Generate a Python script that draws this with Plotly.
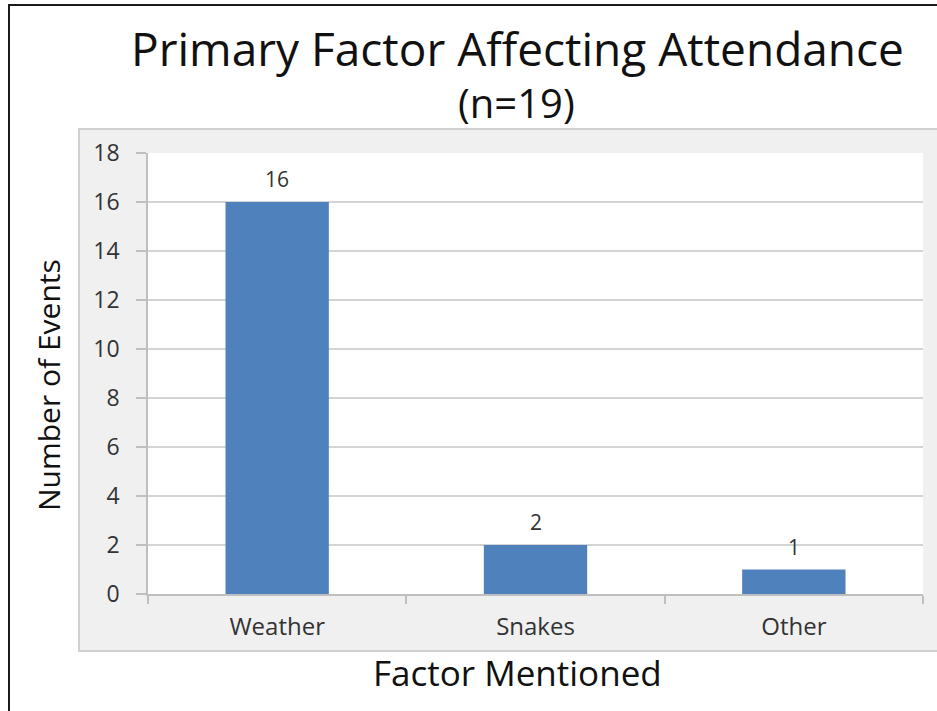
import plotly.graph_objects as go

categories = ["Weather", "Snakes", "Other"]
values = [16, 2, 1]
y_ticks = [0, 2, 4, 6, 8, 10, 12, 14, 16, 18]

title_line1 = "Primary Factor Affecting Attendance"
title_line2 = "(n=19)"
x_title = "Factor Mentioned"
y_title = "Number of Events"

W, H = 937, 711
L, R, T, B = 148, 14, 153, 117
PW, PH = W - L - R, H - T - B


def px(xp):
    return (xp - L) / PW


def py(yp):
    return (H - B - yp) / PH


FONT = "Open Sans"
BAR = "#4f81bd"
GRID = "#d4d4d4"
AXIS = "#bfbfbf"

fig = go.Figure()
fig.add_trace(go.Bar(
    x=categories, y=values, width=0.4,
    marker=dict(color=BAR, line=dict(width=0)),
    hoverinfo="skip",
))

annotations = []
for c, v in zip(categories, values):
    annotations.append(dict(
        x=c, y=v, xref="x", yref="y", text=str(v), showarrow=False,
        yanchor="bottom", yshift=7,
        font=dict(family=FONT, size=21, color="#333333"),
    ))

annotations += [
    dict(x=px(517), y=py(48), xref="paper", yref="paper", text=title_line1,
         showarrow=False, xanchor="center", yanchor="middle",
         font=dict(family=FONT, size=46, color="#111111")),
    dict(x=px(516), y=py(102), xref="paper", yref="paper", text=title_line2,
         showarrow=False, xanchor="center", yanchor="middle",
         font=dict(family=FONT, size=40, color="#111111")),
    dict(x=px(517), y=py(672), xref="paper", yref="paper", text=x_title,
         showarrow=False, xanchor="center", yanchor="middle",
         font=dict(family=FONT, size=35, color="#111111")),
    dict(x=px(48), y=py(385), xref="paper", yref="paper", text=y_title,
         showarrow=False, xanchor="center", yanchor="middle", textangle=-90,
         font=dict(family=FONT, size=30, color="#111111")),
]

shapes = [
    dict(type="rect", xref="paper", yref="paper", layer="below",
         x0=px(9), x1=px(960), y0=py(740), y1=py(5),
         line=dict(color="#1a1a1a", width=2), fillcolor="rgba(0,0,0,0)"),
    dict(type="rect", xref="paper", yref="paper", layer="below",
         x0=px(79), x1=px(960), y0=py(651), y1=py(129),
         line=dict(color="#d0d0d0", width=2), fillcolor="#f0f0f0"),
    dict(type="rect", xref="paper", yref="paper", layer="below",
         x0=0, x1=1, y0=0, y1=1,
         line=dict(width=0), fillcolor="#ffffff"),
]

fig.update_layout(
    width=W, height=H,
    margin=dict(l=L, r=R, t=T, b=B, pad=0),
    paper_bgcolor="#ffffff", plot_bgcolor="#ffffff",
    showlegend=False,
    bargap=0.6,
    annotations=annotations,
    shapes=shapes,
    font=dict(family=FONT, color="#333333"),
)
fig.update_xaxes(
    showline=True, linecolor=AXIS, linewidth=1.5,
    ticks="outside", tickson="boundaries", ticklen=8, tickcolor=AXIS, tickwidth=1.5,
    showgrid=False, zeroline=False,
    tickfont=dict(family=FONT, size=24, color="#333333"),
    ticklabelstandoff=10,
)
fig.update_yaxes(
    range=[0, 18], tickvals=y_ticks, ticktext=[str(t) for t in y_ticks],
    showline=True, linecolor=AXIS, linewidth=1.5,
    ticks="outside", ticklen=10, tickcolor=AXIS, tickwidth=1.5,
    showgrid=True, gridcolor=GRID, gridwidth=1.5, zeroline=False,
    tickfont=dict(family=FONT, size=23, color="#333333"),
    ticklabelstandoff=12,
)

fig.write_html(
    "out.html",
    config={"displayModeBar": False},
    post_script="document.body.style.margin='0';document.body.style.padding='0';",
)
